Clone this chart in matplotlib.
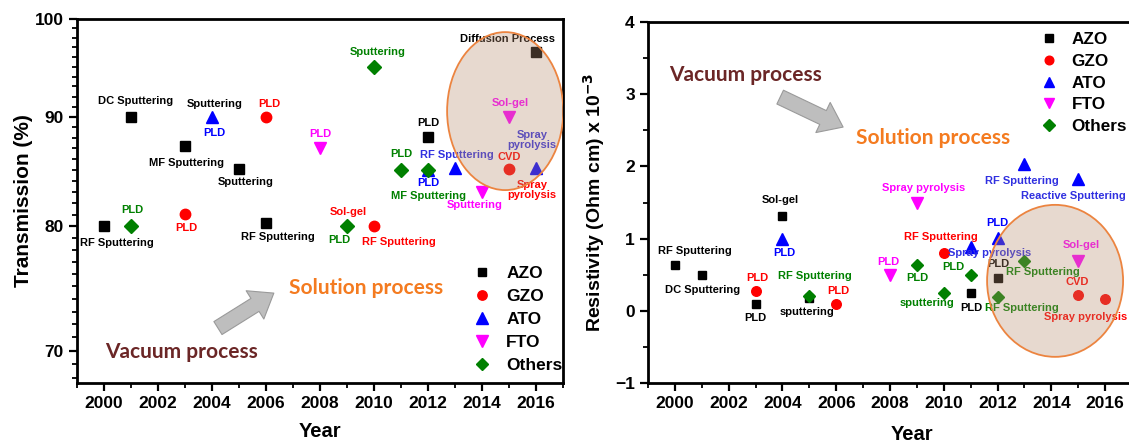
import matplotlib.pyplot as plt
from matplotlib.patches import Ellipse
from matplotlib.ticker import FixedLocator, MultipleLocator, NullFormatter, FuncFormatter

plt.rcParams['font.family'] = ['Liberation Sans', 'DejaVu Sans']
plt.rcParams['font.weight'] = 'bold'

# ---- transmission (%) by year ----
t_azo_year = [2000, 2001, 2003, 2005, 2006, 2012, 2016]
t_azo = [80.0, 90.0, 87.2, 85.1, 80.3, 88.1, 96.5]
t_gzo_year = [2003, 2006, 2010, 2015]
t_gzo = [81.1, 90.0, 80.0, 85.1]
t_ato_year = [2004, 2012, 2013, 2016]
t_ato = [90.0, 85.0, 85.2, 85.2]
t_fto_year = [2008, 2014, 2015]
t_fto = [87.0, 83.0, 90.0]
t_oth_year = [2001, 2009, 2010, 2011, 2012]
t_oth = [80.0, 80.0, 95.0, 85.0, 85.0]

# ---- resistivity (x 10^-3 Ohm cm) by year ----
r_azo_year = [2000, 2001, 2003, 2004, 2005, 2011, 2012]
r_azo = [0.63, 0.49, 0.10, 1.32, 0.18, 0.24, 0.46]
r_gzo_year = [2003, 2006, 2010, 2015, 2016]
r_gzo = [0.27, 0.10, 0.80, 0.22, 0.17]
r_ato_year = [2004, 2011, 2012, 2013, 2015]
r_ato = [1.00, 0.89, 1.01, 2.03, 1.82]
r_fto_year = [2008, 2009, 2015]
r_fto = [0.49, 1.50, 0.69]
r_oth_year = [2005, 2009, 2010, 2011, 2012, 2013]
r_oth = [0.21, 0.63, 0.24, 0.49, 0.19, 0.69]

names = ['AZO', 'GZO', 'ATO', 'FTO', 'Others']
markers = {'AZO': 's', 'GZO': 'o', 'ATO': '^', 'FTO': 'v', 'Others': 'D'}
colors = {'AZO': 'black', 'GZO': 'red', 'ATO': 'blue', 'FTO': 'magenta', 'Others': 'green'}
msizes = {'AZO': 7, 'GZO': 7.5, 'ATO': 9, 'FTO': 9, 'Others': 7}

trans = {'AZO': (t_azo_year, t_azo), 'GZO': (t_gzo_year, t_gzo), 'ATO': (t_ato_year, t_ato),
         'FTO': (t_fto_year, t_fto), 'Others': (t_oth_year, t_oth)}
resist = {'AZO': (r_azo_year, r_azo), 'GZO': (r_gzo_year, r_gzo), 'ATO': (r_ato_year, r_ato),
          'FTO': (r_fto_year, r_fto), 'Others': (r_oth_year, r_oth)}

# method labels: series, point index, text, colour, offset in pixels
t_notes = [
    ('AZO', 0, 'RF Sputtering', 'black', 13, -17),
    ('AZO', 1, 'DC Sputtering', 'black', 5, 16),
    ('AZO', 2, 'MF Sputtering', 'black', 1, -17),
    ('AZO', 3, 'Sputtering', 'black', 7, -13),
    ('AZO', 4, 'RF Sputtering', 'black', 12, -14),
    ('AZO', 5, 'PLD', 'black', 0, 14),
    ('AZO', 6, 'Diffusion Process', 'black', -29, 13),
    ('GZO', 0, 'PLD', 'red', 1, -14),
    ('GZO', 1, 'PLD', 'red', 3, 13),
    ('GZO', 2, 'RF Sputtering', 'red', 25, -16),
    ('GZO', 2, 'Sol-gel', 'red', -26, 14),
    ('GZO', 3, 'CVD', 'red', 0, 12),
    ('GZO', 3, 'Spray\npyrolysis', 'red', 23, -21),
    ('ATO', 0, 'Sputtering', 'black', 3, 13),
    ('ATO', 0, 'PLD', 'blue', 2, -16),
    ('ATO', 1, 'PLD', 'blue', 0, -13),
    ('ATO', 2, 'RF Sputtering', '#3030e0', 2, 13),
    ('ATO', 3, 'Spray\npyrolysis', '#3030e0', -4, 28),
    ('FTO', 0, 'PLD', 'magenta', 0, 14),
    ('FTO', 1, 'Sputtering', 'magenta', -7, -13),
    ('FTO', 2, 'Sol-gel', 'magenta', 1, 14),
    ('Others', 0, 'PLD', 'green', 1, 16),
    ('Others', 1, 'PLD', 'green', -8, -14),
    ('Others', 2, 'Sputtering', 'green', 4, 15),
    ('Others', 3, 'PLD', 'green', 0, 16),
    ('Others', 4, 'MF Sputtering', 'green', 0, -26),
]
r_notes = [
    ('AZO', 0, 'RF Sputtering', 'black', 20, 14),
    ('AZO', 1, 'DC Sputtering', 'black', 1, -15),
    ('AZO', 2, 'PLD', 'black', 0, -14),
    ('AZO', 3, 'Sol-gel', 'black', -2, 16),
    ('AZO', 4, 'sputtering', 'black', -2, -14),
    ('AZO', 5, 'PLD', 'black', 1, -15),
    ('AZO', 6, 'PLD', 'black', 1, 14),
    ('GZO', 0, 'PLD', 'red', 2, 13),
    ('GZO', 1, 'PLD', 'red', 2, 13),
    ('GZO', 2, 'RF Sputtering', 'red', -3, 16),
    ('GZO', 3, 'CVD', 'red', -1, 13),
    ('GZO', 4, 'Spray pyrolysis', 'red', -20, -18),
    ('ATO', 0, 'PLD', 'blue', 2, -14),
    ('ATO', 1, 'Spray pyrolysis', '#3030e0', 19, -6),
    ('ATO', 2, 'PLD', 'blue', 0, 15),
    ('ATO', 3, 'RF Sputtering', '#3030e0', -3, -17),
    ('ATO', 4, 'Reactive Sputtering', '#3030e0', -5, -17),
    ('FTO', 0, 'PLD', 'magenta', -2, 13),
    ('FTO', 1, 'Spray pyrolysis', 'magenta', 7, 15),
    ('FTO', 2, 'Sol-gel', 'magenta', 3, 16),
    ('Others', 0, 'RF Sputtering', 'green', 5, 20),
    ('Others', 1, 'PLD', 'green', 0, -13),
    ('Others', 2, 'sputtering', 'green', -17, -10),
    ('Others', 3, 'PLD', 'green', -17, 8),
    ('Others', 4, 'RF Sputtering', 'green', 24, -11),
    ('Others', 5, 'RF Sputtering', 'green', 18, -11),
]


def draw_points(ax, data, notes, scale=1.0):
    for n in names:
        x, y = data[n]
        ax.plot(x, y, ls='none', marker=markers[n], ms=msizes[n] * scale,
                color=colors[n], label=n, clip_on=False, zorder=3)
    for n, i, txt, c, dx, dy in notes:
        x, y = data[n]
        ax.annotate(txt, (x[i], y[i]), xytext=(dx, dy), textcoords='offset pixels',
                    ha='center', va='center', fontsize=8, fontweight='bold',
                    color=c, linespacing=1.0, zorder=4)


def highlight(ax, cx, cy, w, h):
    ax.add_patch(Ellipse((cx, cy), w, h, transform=ax.transAxes,
                         fc=(0.72, 0.55, 0.43, 0.33), ec='none', zorder=5))
    ax.add_patch(Ellipse((cx, cy), w, h, transform=ax.transAxes,
                         fc='none', ec='#ec8440', lw=1.3, zorder=6))


def process_arrow(ax, tail, tip):
    ax.annotate('', xy=tip, xytext=tail, xycoords='axes fraction', textcoords='axes fraction',
                arrowprops=dict(arrowstyle='simple,head_length=0.8,head_width=1.2,tail_width=0.55',
                                mutation_scale=20, fc='#bebebe', ec='#9a9a9a', lw=0.8,
                                shrinkA=0, shrinkB=0))


def style_axes(ax):
    for s in ax.spines.values():
        s.set_linewidth(2)
    ax.tick_params(which='major', direction='out', length=6, width=1.6, labelsize=12.5)
    ax.tick_params(which='minor', direction='out', length=3.5, width=1.3)
    ax.tick_params(top=False, right=False, which='both')
    ax.set_xlim(1999, 2017)
    ax.xaxis.set_major_locator(MultipleLocator(2))
    ax.xaxis.set_minor_locator(MultipleLocator(1))
    for lab in ax.get_xticklabels() + ax.get_yticklabels():
        lab.set_fontweight('bold')


fig = plt.figure(figsize=(11.29, 4.43), dpi=100)
ax1 = fig.add_axes([0.0682, 0.1354, 0.4305, 0.8217])
ax2 = fig.add_axes([0.574, 0.1354, 0.4287, 0.8149])

# left: transmission on a log axis
ax1.set_yscale('log')
ax1.set_ylim(67.6, 100)
ax1.yaxis.set_major_locator(FixedLocator([70, 80, 90, 100]))
ax1.yaxis.set_major_formatter(FuncFormatter(lambda v, p: f'{v:.0f}'))
ax1.yaxis.set_minor_locator(FixedLocator(list(range(68, 101))))
ax1.yaxis.set_minor_formatter(NullFormatter())
style_axes(ax1)
draw_points(ax1, trans, t_notes)
highlight(ax1, 0.881, 0.747, 0.239, 0.434)
process_arrow(ax1, (0.290, 0.151), (0.405, 0.247))
ax1.text(0.214, 0.085, 'Vacuum process', transform=ax1.transAxes, ha='center', va='center',
         fontsize=15, fontweight='bold', family='Lato', color='#6b2626')
ax1.text(0.595, 0.261, 'Solution process', transform=ax1.transAxes, ha='center', va='center',
         fontsize=15, fontweight='bold', family='Lato', color='#f47b20')
ax1.set_xlabel('Year', fontsize=14.5, fontweight='bold', labelpad=8)
ax1.set_ylabel('Transmission (%)', fontsize=15, fontweight='bold', labelpad=1)
ax1.legend(loc='lower right', bbox_to_anchor=(1.02, 0.0), frameon=False, fontsize=12.5,
           handlelength=1.0, handletextpad=0.9, labelspacing=0.45, borderaxespad=0.2,
           markerscale=0.9)

# right: resistivity
ax2.set_ylim(-1, 4)
ax2.yaxis.set_major_locator(MultipleLocator(1))
ax2.yaxis.set_minor_locator(MultipleLocator(0.5))
style_axes(ax2)
draw_points(ax2, resist, r_notes, scale=0.92)
highlight(ax2, 0.841, 0.283, 0.281, 0.421)
process_arrow(ax2, (0.273, 0.792), (0.403, 0.709))
ax2.text(0.202, 0.853, 'Vacuum process', transform=ax2.transAxes, ha='center', va='center',
         fontsize=15, fontweight='bold', family='Lato', color='#6b2626')
ax2.text(0.589, 0.679, 'Solution process', transform=ax2.transAxes, ha='center', va='center',
         fontsize=15, fontweight='bold', family='Lato', color='#f47b20')
ax2.set_xlabel('Year', fontsize=14.5, fontweight='bold', labelpad=8)
ax2.xaxis.set_label_coords(0.545, -0.115)
ax2.set_ylabel(r'Resistivity (Ohm cm) x 10$^{\mathbf{-3}}$', fontsize=14, fontweight='bold', labelpad=6)
ax2.legend(loc='upper left', bbox_to_anchor=(0.79, 1.0), frameon=False, fontsize=12.3,
           handlelength=1.0, handletextpad=0.8, labelspacing=0.39, borderaxespad=0.2,
           markerscale=0.9)

fig.savefig('out.png', dpi=100)
